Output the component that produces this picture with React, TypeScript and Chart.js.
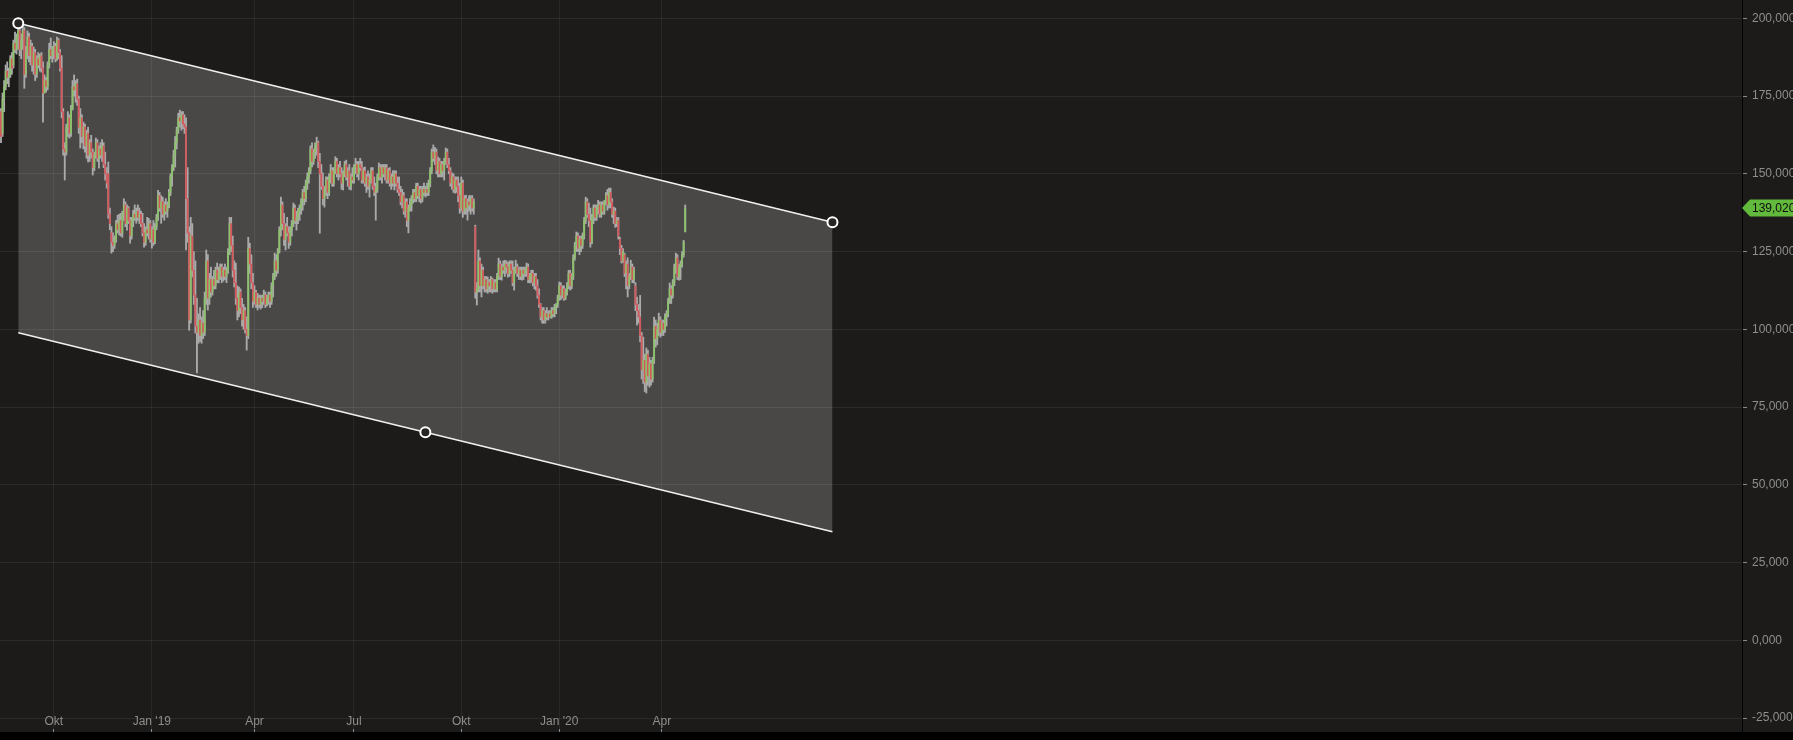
import React, { useEffect, useRef } from 'react';
import { Chart, registerables } from 'chart.js';

Chart.register(...registerables);

// ---------- DATA (daily OHLC) ----------
const opens = [
  170,163,174,178,183,181,182,187,185,192,
  190,194,196,190,193,196,182,189,194,188,
  191,185,189,182,187,185,188,184,176,180,
  178,185,190,188,190,191,187,193,189,184,
  170,158,157,165,168,163,171,178,177,179,
  174,165,168,162,165,159,163,156,160,157,
  152,156,160,155,158,156,159,153,150,150,
  137,131,128,127,129,134,132,135,131,137,
  140,134,139,135,130,135,137,136,138,136,
  137,134,131,128,132,131,134,129,132,128,
  133,136,143,139,141,137,140,138,140,144,
  149,152,156,160,164,168,167,169,166,165,
  142,131,103,130,119,111,101,99,103,98,
  102,99,110,122,110,116,112,116,114,119,
  116,118,120,117,119,117,119,125,134,127,
  119,115,110,106,112,107,103,106,100,98,
  126,121,115,109,112,108,110,108,110,109,
  111,108,110,111,109,114,117,122,119,125,
  132,140,134,129,133,131,128,132,134,139,
  135,136,138,139,141,144,142,147,149,151,
  158,154,157,159,160,154,150,146,142,145,
  148,144,149,151,147,151,154,150,152,150,
  147,150,153,149,151,146,149,148,152,153,
  150,153,152,148,151,147,149,146,148,151,
  146,144,145,149,152,149,152,150,152,148,
  151,147,149,147,150,147,145,144,141,143,
  138,141,135,139,140,142,144,142,146,143,
  145,142,145,144,145,144,147,151,157,155,
  157,151,154,150,153,151,154,157,153,151,
  147,149,145,148,146,143,139,147,138,142,
  139,141,140,142,139,133,112,113,122,114,
  119,114,116,113,115,114,116,113,115,113,
  117,121,117,120,119,121,120,118,121,119,
  115,119,120,118,119,117,119,118,119,120,
  116,117,118,115,117,114,111,108,104,106,
  103,105,104,105,104,106,105,107,108,110,
  114,111,113,110,112,114,118,114,117,123,
  127,130,126,129,127,130,135,141,137,135,
  128,136,139,136,139,140,137,140,138,141,
  143,140,144,141,137,138,134,135,129,126,
  122,124,118,121,114,117,120,116,114,108,
  106,104,98,87,90,83,92,85,89,84,
  90,101,97,100,103,99,102,100,104,105,
  109,113,111,115,120,123,117,120,121,124,
  131.5,
];

const highs = [
  171,176,180,185,186,184,188,189,193,195.6,
  195,198,197.5,195,198,197,191,196,195.3,193,
  192,190.8,190,188,189,188.5,189,186,181.8,181,
  186,192,193.7,191,192.5,192,194,193.5,190,188,
  171,160,166,170,169,172,180,181.8,180,180.5,
  175,171,169,166.6,166,164,165,161,162.4,158,
  157,161.5,161,159,160,161,160,157,152,153.8,
  139,133,131,130,135,136.7,137,137.3,138,142,
  141,140,139.5,136,136,138.3,140,139,140,139,
  138,137.3,134,133,136,135.7,135,133,135,134,
  137,144.7,144,143,142.5,141,142,141,145,150,
  153,157.6,162,165,169.5,170.5,170,170,169,168,
  152,133,136,134,125,122,110,105,107,104,
  106,112,125.5,124,118,120,117,119,120,121.3,
  120,121,121,120,121,120,126,136,136,130,
  122,121.3,114,113.6,113,110,108,107,104,129.6,
  127.7,124,118,114,112.5,111.6,111,111,111,112.6,
  112,111,112,112,115,118,124.5,124,126,133,
  142.5,141,137.3,134,136,133,133,135,140.6,140,
  138,139,140,142,145,146,148,150.3,152,159,
  160,158,160,161.8,160.5,156.6,153,150.3,146,149,
  149,150,153,152,152,155.5,155,153,154,152,
  151,154,154.4,152,153,150,152,153,155,154,
  154,155,154,152,152.2,150,151,150,152,152,
  149,147,150,153.5,153,153,153,153,153,151.8,
  152,150,151,151,151,149,149,146,145,144,
  142,142,140,142,143,145,145,147,147,146,
  146,146,147,146,147,148,152,158,159.3,158.5,
  158,155.5,155,154,154,155,158.3,158,155,152,
  150.3,150,149,149,149,147,149,148,143,143.2,
  142,143,143,143,142,133.5,115,125.5,123,121,
  120,117,117,116.8,116,117,116.5,116,116,118,
  122.9,122,121,122,122.2,122,121.5,122,122,122,
  120,122.2,121,120,120,120,120,120,121.3,121,
  118,119,119,118,118,116,113,108.3,107,107,
  106,107,106,106,107,107,108,108.3,111,115.2,
  115,114,114,113,115,119,119,118,124,128,
  131.3,131,130,130,131,136,142.5,142,140.6,139,
  137,140,140,140,141.5,141,141,141,141.5,144,
  145,145.4,145.4,142,139.3,139,136,136,129.6,127,
  126,124.5,122,123,118,122.2,121,120,115,110.4,
  108,110.9,99,97.5,92,94,93.3,91,90,91,
  103.9,103,102,105.2,104,103,103,105,106,110,
  114.9,114,116,121,124.5,124,121,122,125,128.6,
  140,
];

const lows = [
  160,162,170,177,179,178,181,182,184,189,
  188.5,190,188,187,190,177.5,181,187,186,185,
  183,182,180,181,184,183,182.7,166.6,176,176.3,
  177,184,187,185.9,187,186,186.5,187,183,168,
  156,148,156,162,161.5,162,170.5,175,173,172,
  163,158.3,160,158,157,155,153.8,154,155,149.6,
  151,155,154,151.8,155,154,152,148,145.4,135.7,
  132,124.5,125,126,128,131,130.3,130,129.6,135,
  133,131.9,134,127.7,129,133,135,134.1,135,134,
  133,130,126.4,127,130,129,128,126.1,127,127.5,
  132,135,138,134.1,136,135.1,137,136,139,143,
  146,151,152.2,158,163,165,164,164.5,163,125.5,
  128,99.7,102,116.8,108,98.8,86,95.5,96,95.5,
  97,98,108,106.2,108,110.4,111,113,113,115,
  114.9,116,115,115.5,116,115,118,124,125,116.8,
  113.6,108,103,104,105,101,100,98.8,93.3,97,
  118,113,107,108,107,106.2,107,106.5,107,108,
  107,107.5,108,107,108,110.4,116,117,118,124.5,
  130,132,127,125.5,130,126,127,130,133,134,
  131.9,134,135,137,138.3,140,141,145,147,150,
  152.2,153,155,156,152,130.9,145,140,139.3,143,
  142,143,147,146,146,150,149,148,149,145,
  144.8,149,148,146,145,144.8,147,147,150,149,
  148,151,147,147,146,144,145,142.5,147,145,
  143,135.1,144,148,148,147,149,148,147,147,
  146,145,146,144.8,146,144,143,140,139,137,
  136,133,131,138,138,140.6,141,141,142,141,
  140.6,141,143,142.5,143,143,145.8,150,154,153,
  150,149,149,149,149,148,153,152,150,146,
  145,144,143.8,144,141,137.3,138,136,137,137,
  135.1,138,137,138,137,110,107.8,112,112,110.4,
  113,112,112,111.6,112,112,111.6,112,112,112,
  116,116,115.8,118,117,118,116.8,117,118,114,
  112.6,118,117,116,116,115.8,116,117,117,115,
  114.9,115,114,113,112.6,110,107,103,102,101.9,
  102,103,103,103.8,103.5,104,104,105,107,109.3,
  109.5,110,109.3,109.5,111,113,112.6,113,116,122.2,
  125,125,124,125,126,129,134,136,133,126.4,
  127.5,134,135,135,137,136,136,137,137,140,
  138.3,139,139,136,134,132.8,133,129,124,121.3,
  121.5,117,113,110.4,113,116,115,114.9,106,101.3,
  102,96,84,82.6,80,79.5,82,81.4,82,83,
  89,94.3,95,98,97.5,98,98,99,101,104,
  108.3,108.3,110,114,118,116,115.8,116,120,123.2,
  131.3,
];

const closes = [
  162,174,178,183,181,182,187,184,192,190,
  194,196,190,193,196,182,189,194,188,191,
  185,189,182,187,185,188,184,176,180,178,
  185,190,188,190,191,187,193,189,184,170,
  158,157,165,168,163,171,178,177,179,174,
  165,168,162,165,159,163,156,160,157,152,
  156,160,155,158,156,159,153,150,147,137,
  134,128,127,129,134,132,135,131,137,140,
  134,139,135,130,135,137,136,138,136,137,
  134,131,128,132,131,134,129,132,128,133,
  136,143,139,141,137,140,138,140,144,149,
  152,156,160,164,168,167,169,166,165,142,
  131,103,130,119,111,101,99,103,98,102,
  99,110,122,110,116,112,116,114,119,116,
  118,120,117,119,117,119,125,134,127,119,
  115,110,106,112,107,103,106,100,98,126,
  121,115,109,112,108,110,108,110,109,111,
  108,110,111,109,114,117,122,119,125,132,
  140,134,129,133,131,128,132,134,139,135,
  136,138,139,141,144,142,147,149,151,158,
  154,157,159,160,154,150,146,142,145,148,
  144,149,151,147,151,154,150,152,150,147,
  150,153,149,151,146,149,148,152,153,150,
  153,152,148,151,147,149,146,148,151,146,
  144,145,149,152,149,152,150,152,148,151,
  147,149,147,150,147,145,144,141,143,138,
  141,135,139,140,142,144,142,146,143,145,
  142,145,144,145,144,147,151,157,155,157,
  151,154,150,153,151,154,157,153,151,147,
  149,145,148,146,143,139,147,138,142,139,
  141,140,142,139,141,112,113,122,114,119,
  114,116,113,115,114,116,113,115,113,117,
  121,117,120,119,121,120,118,121,119,115,
  119,120,118,119,117,119,118,119,120,116,
  117,118,115,117,114,111,108,104,106,103,
  105,104,105,104,106,105,107,108,110,114,
  111,113,110,112,114,118,114,117,123,127,
  130,126,129,127,130,135,141,137,135,128,
  136,139,136,139,140,137,140,138,141,143,
  140,144,141,137,138,134,135,130,126,122,
  125,118,121,114,117,120,116,119,108,106,
  104,98,87,90,83,92,85,89,84,90,
  101,97,100,103,99,102,100,104,105,109,
  113,111,115,120,123,117,120,121,124,128,
  139.02,
];

// x-axis: bar index where each month label sits
const monthTickIndex = [34, 97, 163, 227, 296, 359, 425];
const monthTickLabels = ['Okt', "Jan '19", 'Apr', 'Jul', 'Okt', "Jan '20", 'Apr'];
const yTickValues = [-25, 0, 25, 50, 75, 100, 125, 150, 175, 200];

// trend channel drawing (bar index / value)
const channelIndex = [11.1, 534.7];
const channelUpper = [198.4, 134.4];
const channelLower = [98.9, 34.9];
const handleIndex = [11.1, 534.7, 272.9];
const handleValue = [198.4, 134.4, 66.9];

// ---------- STYLE ----------
const BG = '#1c1b1a';
const FONT = "Arial, 'Liberation Sans', sans-serif";
const TXT = '#8e8e8e';
const UP = '#8cc26a';
const DOWN = '#d2585b';
const WICK = '#aaaaaa';
const TAG = '#62ba3c';

const fmt = (v: number) => v.toFixed(3).replace('.', ',');

export default function App() {
  const ref = useRef<HTMLCanvasElement | null>(null);

  useEffect(() => {
    document.body.style.margin = '0';
    document.body.style.background = BG;
    const canvas = ref.current;
    if (!canvas) return;

    const idx = closes.map((_, i) => i);
    const wickData = idx.map((i) => ({ x: i, y: [lows[i], highs[i]] }));
    const bodyData = idx.map((i) => ({ x: i, y: [opens[i], closes[i]] }));
    const bodyColors = idx.map((i) => (closes[i] >= opens[i] ? UP : DOWN));

    const bgPlugin = {
      id: 'bgPlugin',
      beforeDraw(chart: any) {
        const c = chart.ctx;
        c.save();
        c.fillStyle = BG;
        c.fillRect(0, 0, chart.width, chart.height);
        c.fillStyle = '#000';
        c.fillRect(0, chart.chartArea.bottom, chart.width, chart.height - chart.chartArea.bottom);
        c.restore();
      },
    };

    const xLabelPlugin = {
      id: 'xLabelPlugin',
      afterDatasetsDraw(chart: any) {
        const xs = chart.scales.x;
        const c = chart.ctx;
        c.save();
        c.font = `12px ${FONT}`;
        c.fillStyle = TXT;
        c.textAlign = 'center';
        c.textBaseline = 'middle';
        xs.ticks.forEach((t: any, i: number) => {
          c.fillText(monthTickLabels[i], xs.getPixelForValue(t.value), chart.chartArea.bottom - 10.5);
        });
        c.restore();
      },
    };

    const tagPlugin = {
      id: 'tagPlugin',
      afterDraw(chart: any) {
        const ys = chart.scales.y;
        const v = closes[closes.length - 1];
        const y = ys.getPixelForValue(v);
        const x0 = ys.left;
        const h = 8.5;
        const c = chart.ctx;
        c.save();
        c.beginPath();
        c.moveTo(x0, y);
        c.lineTo(x0 + 8, y - h);
        c.lineTo(chart.width, y - h);
        c.lineTo(chart.width, y + h);
        c.lineTo(x0 + 8, y + h);
        c.closePath();
        c.fillStyle = TAG;
        c.fill();
        c.fillStyle = '#0d0d0d';
        c.font = `12px ${FONT}`;
        c.textBaseline = 'middle';
        c.textAlign = 'left';
        c.fillText(fmt(v), x0 + 10, y + 0.5);
        c.restore();
      },
    };

    const chart = new Chart(canvas, {
      type: 'bar',
      data: {
        datasets: [
          {
            type: 'line',
            data: channelIndex.map((x, k) => ({ x, y: channelUpper[k] })),
            borderColor: '#f0f0f0',
            borderWidth: 1.6,
            pointRadius: 0,
            fill: false,
            tension: 0,
            order: 10,
          } as any,
          {
            type: 'line',
            data: channelIndex.map((x, k) => ({ x, y: channelLower[k] })),
            borderColor: '#f0f0f0',
            borderWidth: 1.6,
            pointRadius: 0,
            fill: '-1',
            backgroundColor: 'rgba(255,255,255,0.2)',
            tension: 0,
            order: 9,
          } as any,
          {
            type: 'bar',
            data: wickData,
            backgroundColor: WICK,
            borderWidth: 0,
            barThickness: 1.2,
            grouped: false,
            order: 5,
          } as any,
          {
            type: 'bar',
            data: bodyData,
            backgroundColor: bodyColors,
            borderWidth: 0,
            barThickness: 1.2,
            grouped: false,
            order: 4,
          } as any,
          {
            type: 'line',
            data: handleIndex.map((x, k) => ({ x, y: handleValue[k] })),
            showLine: false,
            pointRadius: 5,
            pointBorderWidth: 2,
            pointBorderColor: '#ffffff',
            pointBackgroundColor: '#262524',
            order: 0,
          } as any,
        ],
      },
      options: {
        responsive: false,
        devicePixelRatio: 1,
        animation: false,
        events: [],
        layout: { padding: 0, autoPadding: false },
        plugins: {
          legend: { display: false },
          tooltip: { enabled: false },
        },
        scales: {
          x: {
            type: 'linear',
            position: 'bottom',
            min: -0.643,
            max: 1119.6,
            offset: false,
            bounds: 'data',
            afterBuildTicks: (s: any) => {
              s.ticks = monthTickIndex.map((v) => ({ value: v }));
            },
            afterFit: (s: any) => {
              s.height = 8;
              s.paddingLeft = 0;
              s.paddingRight = 0;
              s.paddingTop = 0;
              s.paddingBottom = 0;
            },
            ticks: {
              display: false,
              autoSkip: false,
              maxRotation: 0,
              minRotation: 0,
              callback: (_v: any, i: number) => monthTickLabels[i],
            },
            grid: {
              offset: false,
              color: 'rgba(255,255,255,0.06)',
              tickColor: '#8a8a8a',
              tickLength: -3,
              drawTicks: true,
            },
            border: { display: false },
          } as any,
          y: {
            type: 'linear',
            position: 'right',
            min: -29.5,
            max: 205.9,
            bounds: 'data',
            afterBuildTicks: (s: any) => {
              s.ticks = yTickValues.map((v) => ({ value: v }));
            },
            afterFit: (s: any) => {
              s.width = 51;
              s.paddingTop = 0;
              s.paddingBottom = 0;
              s.paddingLeft = 0;
              s.paddingRight = 0;
            },
            ticks: {
              color: TXT,
              font: { family: FONT, size: 12 },
              padding: 5,
              autoSkip: false,
              callback: (v: any) => fmt(Number(v)),
            },
            grid: {
              color: 'rgba(255,255,255,0.07)',
              tickColor: '#8a8a8a',
              tickLength: 5,
              drawTicks: true,
            },
            border: { display: true, color: '#000', width: 1 },
          } as any,
        },
      } as any,
      plugins: [bgPlugin, xLabelPlugin, tagPlugin],
    });

    return () => chart.destroy();
  }, []);

  return (
    <div style={{ width: 1793, height: 740, background: BG }}>
      <canvas ref={ref} width={1793} height={740} style={{ display: 'block', width: 1793, height: 740 }} />
    </div>
  );
}
